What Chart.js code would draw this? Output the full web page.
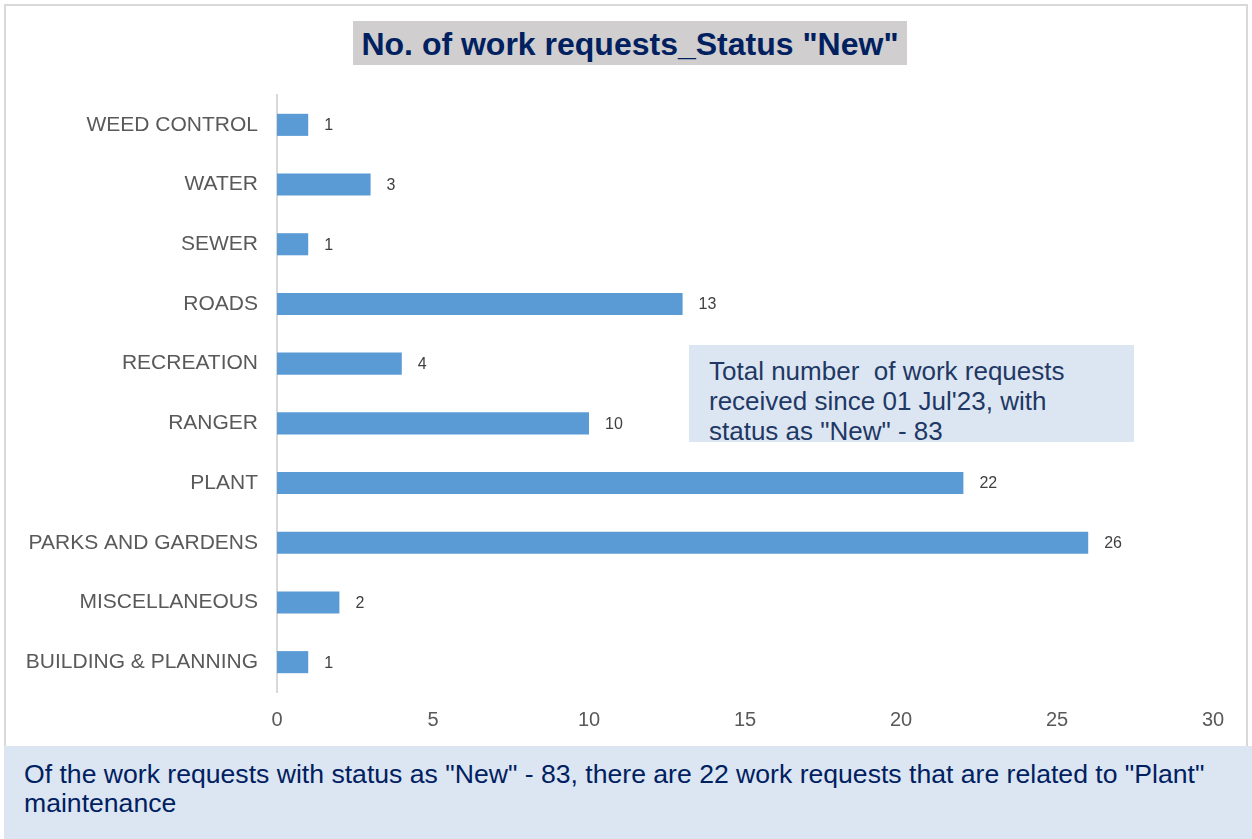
<!DOCTYPE html>
<html>
<head>
<meta charset="utf-8">
<script src="https://cdn.jsdelivr.net/npm/chart.js@4.4.0/dist/chart.umd.min.js"></script>
<style>
  html, body { margin: 0; padding: 0; background: #fff; }
  body { width: 1252px; height: 839px; position: relative; overflow: hidden; font-family: "Liberation Sans", Arial, sans-serif; }
  #frame { position: absolute; left: 4px; top: 4px; width: 1244px; height: 744px; border: 2px solid #d9d9d9; border-bottom: none; box-sizing: border-box; }
  #wrap { position: absolute; left: 0; top: 0; width: 1252px; height: 839px; }
  #title { position: absolute; left: 353px; top: 21px; width: 554px; height: 44px; background: #d0cece; color: #002060; font-weight: bold; font-size: 32px; line-height: 46px; text-align: center; white-space: nowrap; }
  #note { position: absolute; left: 689px; top: 345px; width: 445px; height: 97px; background: #dce6f2; color: #1f3864; font-size: 26px; line-height: 30px; padding: 11px 0 0 20px; box-sizing: border-box; overflow: hidden; white-space: nowrap; }
  #footer { position: absolute; left: 4px; top: 746px; width: 1248px; height: 93px; background: #dce6f2; color: #002060; font-size: 26.6px; line-height: 29px; padding: 14px 0 0 20px; box-sizing: border-box; white-space: nowrap; }
</style>
</head>
<body>
<div id="frame"></div>
<div id="wrap"><canvas id="chart" width="1252" height="839"></canvas></div>
<div id="title">No. of work requests_Status "New"</div>
<div id="note">Total number&nbsp; of work requests<br>received since 01 Jul'23, with<br>status as "New" - 83</div>
<div id="footer">Of the work requests with status as "New" - 83, there are 22 work requests that are related to "Plant"<br>maintenance</div>
<script>
const categories = ['WEED CONTROL', 'WATER', 'SEWER', 'ROADS', 'RECREATION', 'RANGER', 'PLANT', 'PARKS AND GARDENS', 'MISCELLANEOUS', 'BUILDING & PLANNING'];
const requestCounts = [1, 3, 1, 13, 4, 10, 22, 26, 2, 1];
const xTicks = [0, 5, 10, 15, 20, 25, 30];

// value labels just past the end of each bar
const barValues = {
  id: 'barValues',
  afterDatasetsDraw(chart) {
    const ctx = chart.ctx;
    const meta = chart.getDatasetMeta(0);
    ctx.save();
    ctx.font = '16px "Liberation Sans", Arial, sans-serif';
    ctx.fillStyle = '#404040';
    ctx.textAlign = 'left';
    ctx.textBaseline = 'middle';
    meta.data.forEach((bar, i) => {
      ctx.fillText(String(requestCounts[i]), bar.x + 16, bar.y + 1);
    });
    ctx.restore();
  }
};

new Chart(document.getElementById('chart'), {
  type: 'bar',
  data: {
    labels: categories,
    datasets: [{
      data: requestCounts,
      backgroundColor: '#5b9bd5',
      borderWidth: 0,
      categoryPercentage: 1,
      barPercentage: 0.37,
    }],
  },
  options: {
    indexAxis: 'y',
    responsive: false,
    animation: false,
    events: [],
    layout: { padding: { top: 95, right: 39, bottom: 97, left: 0 } },
    plugins: {
      legend: { display: false },
      tooltip: { enabled: false },
    },
    scales: {
      x: {
        min: 0,
        max: 30,
        afterBuildTicks: (scale) => { scale.ticks = xTicks.map(v => ({ value: v })); },
        afterFit: (scale) => { scale.height = 50; },
        grid: { display: false, drawTicks: false },
        border: { display: false },
        ticks: {
          padding: 16,
          color: '#595959',
          font: { family: '"Liberation Sans", Arial, sans-serif', size: 20 },
        },
      },
      y: {
        afterFit: (scale) => { scale.width = 277; },
        grid: { display: false, drawTicks: false },
        border: { display: true, color: '#d9d9d9', width: 2 },
        ticks: {
          padding: 19,
          color: '#595959',
          font: { family: '"Liberation Sans", Arial, sans-serif', size: 21 },
        },
      },
    },
  },
  plugins: [barValues],
});
</script>
</body>
</html>
